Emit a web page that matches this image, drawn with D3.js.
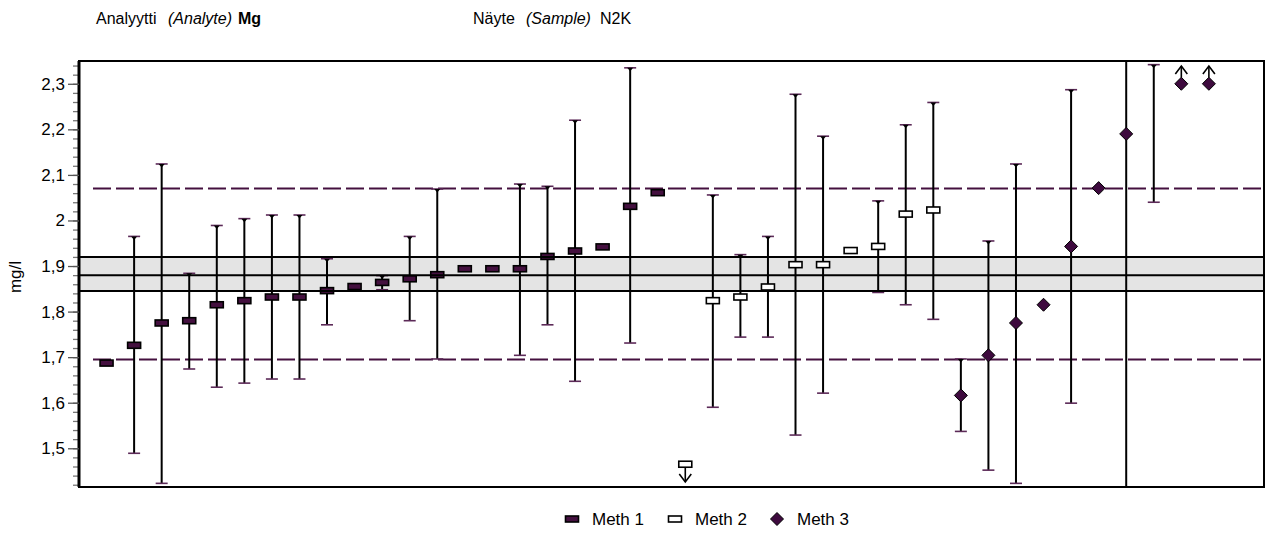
<!DOCTYPE html>
<html>
<head>
<meta charset="utf-8">
<script src="https://cdn.jsdelivr.net/npm/d3@7"></script>
<style>
  html, body { margin: 0; padding: 0; background: #fff; }
  svg { display: block; font-family: "Liberation Sans", Arial, sans-serif; }
</style>
</head>
<body>
<svg id="chart" width="1270" height="533"></svg>
<script>
// ---------- DATA ----------
const labs = d3.range(1, 42);
const methods = [1,1,1,1,1,1,1,1,1,1,1,1,1,1,1,1,1,1,1,1,1,
                 2,2,2,2,2,2,2,2,2,2,
                 3,3,3,3,3,3,3,3,3,3];
const values = [1.687,1.726,1.775,1.780,1.815,1.824,1.832,1.832,1.846,1.855,1.864,1.872,1.881,1.894,1.894,1.894,1.921,1.933,1.942,2.031,2.061,
                1.40,1.824,1.832,1.854,1.903,1.903,1.934,1.943,2.014,2.023,
                1.616,1.704,1.775,1.815,1.943,2.071,2.190,null,2.40,2.40];
const lows  = [null,1.489,1.423,1.674,1.634,1.643,1.652,1.652,1.771,null,1.848,1.780,1.696,null,null,1.704,1.771,1.647,null,1.731,null,
               null,1.590,1.744,1.744,1.529,1.621,null,1.842,1.815,1.783,
               1.537,1.452,1.423,null,1.599,null,1.30,2.040,null,null];
const highs = [null,1.965,2.124,1.884,1.989,2.004,2.012,2.012,1.916,null,1.879,1.965,2.069,null,null,2.080,2.075,2.220,null,2.335,null,
               null,2.056,1.925,1.965,2.277,2.185,null,2.043,2.210,2.259,
               1.696,1.955,2.124,null,2.287,null,3.10,2.342,null,null];
const assigned = 1.88;
const bandLimits = [1.845, 1.92];
const toleranceLimits = [1.695, 2.07];
const yTickValues = [1.5,1.6,1.7,1.8,1.9,2.0,2.1,2.2,2.3];
const yTickLabels = ["1,5","1,6","1,7","1,8","1,9","2","2,1","2,2","2,3"];
const yMinorTicks = d3.range(1.42, 2.345, 0.02);
const legendLabels = ["Meth 1","Meth 2","Meth 3"];
const yLabel = "mg/l";

// ---------- LAYOUT ----------
const svg = d3.select("#chart");
const L = 79, R = 1264, T = 61, B = 487;
const yDomain = [1.415, 2.35];
const x = d3.scaleLinear().domain([0, 43]).range([L, R]);
const y = d3.scaleLinear().domain(yDomain).range([B, T]);
const purple = "#44103f";
const capColor = "#5c2a58";

// header
const hdr = svg.append("g").attr("font-size", 16).attr("fill", "#000");
hdr.append("text").attr("x", 96).attr("y", 24).text("Analyytti");
hdr.append("text").attr("x", 168).attr("y", 24).attr("font-style", "italic").text("(Analyte)");
hdr.append("text").attr("x", 238).attr("y", 24).attr("font-weight", "bold").text("Mg");
hdr.append("text").attr("x", 473).attr("y", 24).text("Näyte");
hdr.append("text").attr("x", 526).attr("y", 24).attr("font-style", "italic").text("(Sample)");
hdr.append("text").attr("x", 600).attr("y", 24).text("N2K");

// clip
svg.append("defs").append("clipPath").attr("id", "clip")
  .append("rect").attr("x", L).attr("y", T).attr("width", R - L).attr("height", B - T);
const plot = svg.append("g").attr("clip-path", "url(#clip)");

// band
plot.append("rect").attr("x", L).attr("width", R - L)
  .attr("y", y(bandLimits[1])).attr("height", y(bandLimits[0]) - y(bandLimits[1]))
  .attr("fill", "#e4e4e4");

// dashed tolerance lines
plot.selectAll("line.tol").data(toleranceLimits).enter().append("line")
  .attr("class", "tol")
  .attr("x1", 93).attr("x2", R)
  .attr("y1", d => y(d)).attr("y2", d => y(d))
  .attr("stroke", purple).attr("stroke-width", 2).attr("stroke-dasharray", "18,5");

// data rows
const rows = labs.map((lab, i) => ({ lab, m: methods[i], v: values[i], lo: lows[i], hi: highs[i] }));
const [yMin, yMax] = yDomain;

// error bars
const eb = plot.append("g");
rows.filter(d => d.lo != null && d.hi != null).forEach(d => {
  const cx = x(d.lab);
  const y1 = y(Math.max(d.lo, yMin - 0.02)), y2 = y(Math.min(d.hi, yMax + 0.02));
  eb.append("line").attr("x1", cx).attr("x2", cx).attr("y1", y1).attr("y2", y2)
    .attr("stroke", "#000").attr("stroke-width", 2);
  if (d.lo >= yMin) {
    eb.append("line").attr("x1", cx - 6).attr("x2", cx + 6).attr("y1", y(d.lo)).attr("y2", y(d.lo))
      .attr("stroke", capColor).attr("stroke-width", 1.6);
  }
  if (d.hi <= yMax) {
    const yy = y(d.hi);
    eb.append("line").attr("x1", cx - 6).attr("x2", cx + 6).attr("y1", yy).attr("y2", yy)
      .attr("stroke", capColor).attr("stroke-width", 1.6);
    eb.append("path").attr("d", `M${cx-3},${yy} L${cx+3},${yy} L${cx},${yy+3.5} Z`).attr("fill", "#000");
  }
});

// markers
const mk = plot.append("g");
function drawMarker(g, m, cx, cy) {
  if (m === 1) {
    g.append("rect").attr("x", cx - 6.5).attr("y", cy - 3).attr("width", 13).attr("height", 6)
      .attr("fill", purple).attr("stroke", "#000").attr("stroke-width", 1.6);
  } else if (m === 2) {
    g.append("rect").attr("x", cx - 6.5).attr("y", cy - 3).attr("width", 13).attr("height", 6)
      .attr("fill", "#fff").attr("stroke", "#000").attr("stroke-width", 1.6);
  } else {
    g.append("path").attr("d", `M${cx},${cy-6.5} L${cx+6.5},${cy} L${cx},${cy+6.5} L${cx-6.5},${cy} Z`)
      .attr("fill", "#3e0a3e").attr("stroke", "#000").attr("stroke-width", 1);
  }
}
rows.filter(d => d.v != null).forEach(d => {
  const cx = x(d.lab);
  if (d.v < yMin) {
    const cy = y(yMin + 0.05);
    drawMarker(mk, d.m, cx, cy);
    const yb = B - 5;
    mk.append("line").attr("x1", cx).attr("x2", cx).attr("y1", cy + 3).attr("y2", yb)
      .attr("stroke", "#000").attr("stroke-width", 1.6);
    mk.append("path").attr("d", `M${cx-6},${yb-8} L${cx},${yb} L${cx+6},${yb-8}`)
      .attr("fill", "none").attr("stroke", "#000").attr("stroke-width", 1.6);
  } else if (d.v > yMax) {
    const cy = y(yMax - 0.05);
    drawMarker(mk, d.m, cx, cy);
    const yt = T + 5;
    mk.append("line").attr("x1", cx).attr("x2", cx).attr("y1", cy - 6).attr("y2", yt)
      .attr("stroke", "#000").attr("stroke-width", 1.6);
    mk.append("path").attr("d", `M${cx-6},${yt+8} L${cx},${yt} L${cx+6},${yt+8}`)
      .attr("fill", "none").attr("stroke", "#000").attr("stroke-width", 1.6);
  } else {
    drawMarker(mk, d.m, cx, y(d.v));
  }
});

// band lines (on top)
plot.selectAll("line.band").data([bandLimits[0], assigned, bandLimits[1]]).enter().append("line")
  .attr("class", "band").attr("x1", L).attr("x2", R)
  .attr("y1", d => y(d)).attr("y2", d => y(d))
  .attr("stroke", "#000").attr("stroke-width", 2);

// frame
svg.append("rect").attr("x", L).attr("y", T).attr("width", R - L).attr("height", B - T)
  .attr("fill", "none").attr("stroke", "#000").attr("stroke-width", 2);

// y axis
const minorAxis = d3.axisLeft(y).tickValues(yMinorTicks).tickSize(6).tickFormat("");
const gMinor = svg.append("g").attr("transform", `translate(${L},0)`).call(minorAxis);
gMinor.select(".domain").remove();
gMinor.selectAll("line").attr("stroke", "#777").attr("stroke-width", 1.3);

const majorAxis = d3.axisLeft(y).tickValues(yTickValues).tickSize(11).tickPadding(3)
  .tickFormat((d, i) => yTickLabels[i]);
const gMajor = svg.append("g").attr("transform", `translate(${L},0)`).call(majorAxis);
gMajor.select(".domain").attr("stroke", "#000").attr("stroke-width", 3).attr("d", `M0,${T}V${B}`);
gMajor.selectAll(".tick line").attr("stroke", "#555").attr("stroke-width", 1.3);
gMajor.selectAll(".tick text").attr("font-size", 17).attr("fill", "#000")
  .attr("font-family", "'Liberation Sans', Arial, sans-serif");

svg.append("text").attr("transform", `translate(21,${(T + B) / 2 + 3}) rotate(-90)`)
  .attr("text-anchor", "middle").attr("font-size", 17).text(yLabel);

// legend
const lg = svg.append("g").attr("font-size", 17);
const legendX = [572, 675, 777];
legendLabels.forEach((lab, i) => {
  drawMarker(lg, i + 1, legendX[i], 519);
  lg.append("text").attr("x", legendX[i] + 20).attr("y", 525).text(lab);
});
</script>
</body>
</html>
